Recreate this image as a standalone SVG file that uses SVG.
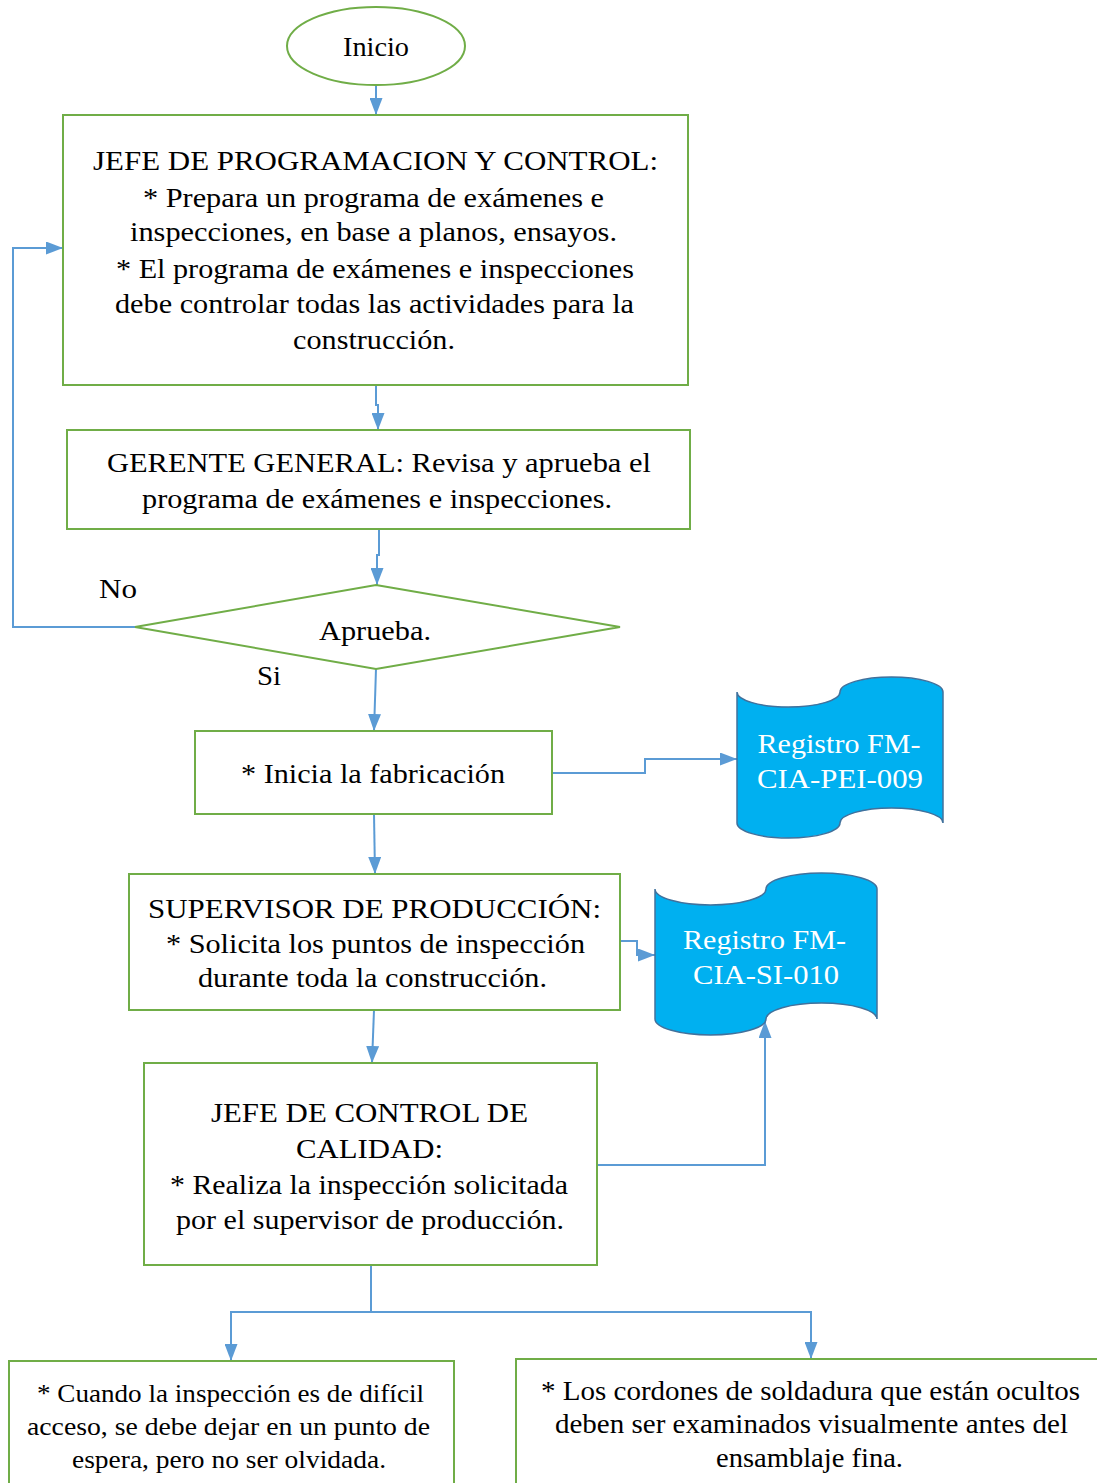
<svg xmlns="http://www.w3.org/2000/svg" width="1097" height="1483" viewBox="0 0 1097 1483">
<defs>
<marker id="ah" markerWidth="17" markerHeight="13" refX="17" refY="6.5" orient="auto" markerUnits="userSpaceOnUse" viewBox="0 0 17 13">
<path d="M0,0 L17,6.5 L0,13 Z" fill="#5B9BD5"/>
</marker>
<style>
.n{fill:#fff;stroke:#70AD47;stroke-width:2}
.r{fill:#00B0F0;stroke:#41719C;stroke-width:1.5}
.t{font-size:28px;fill:#000;text-anchor:middle}
.w{fill:#fff}
.s{font-size:25px}
.c{fill:none;stroke:#5B9BD5;stroke-width:2;marker-end:url(#ah)}
.l{font-size:28px;fill:#000}
</style>
</defs>
<rect width="1097" height="1483" fill="#fff"/>
<g id="connectors">
<path class="c" d="M376,85 V115"/>
<path class="c" d="M376,385 V405 H378 V430"/>
<path class="c" d="M379,529 V555 H377 V585"/>
<path class="c" d="M135,627 H13 V248 H63"/>
<path class="c" d="M376,669 L374,731"/>
<path class="c" d="M552,773 H645 V759 H737"/>
<path class="c" d="M374,814 L375,874"/>
<path class="c" d="M620,941 H637 V955 H655"/>
<path class="c" d="M374,1010 L372,1063"/>
<path class="c" d="M597,1165 H765 V1021"/>
<path class="c" d="M371,1265 V1312 H231 V1361"/>
<path class="c" d="M371,1312 H811 V1359"/>
</g>
<g font-family="'Liberation Serif', 'Times New Roman', Tinos, Times, serif">
<g id="inicio">
<ellipse class="n" cx="376" cy="46" rx="89" ry="39"/>
<text class="t" x="376" y="56" textLength="66" lengthAdjust="spacingAndGlyphs">Inicio</text>
</g>
<g id="jefe-programacion">
<rect class="n" x="63" y="115" width="625" height="270"/>
<text class="t" x="375.5" y="170" textLength="565" lengthAdjust="spacingAndGlyphs">JEFE DE PROGRAMACION Y CONTROL:</text>
<text class="t" x="373.5" y="207" textLength="461" lengthAdjust="spacingAndGlyphs">* Prepara un programa de exámenes e</text>
<text class="t" x="373.5" y="241" textLength="487" lengthAdjust="spacingAndGlyphs">inspecciones, en base a planos, ensayos.</text>
<text class="t" x="375" y="278" textLength="518" lengthAdjust="spacingAndGlyphs">* El programa de exámenes e inspecciones</text>
<text class="t" x="374.5" y="313" textLength="519" lengthAdjust="spacingAndGlyphs">debe controlar todas las actividades para la</text>
<text class="t" x="374" y="349" textLength="162" lengthAdjust="spacingAndGlyphs">construcción.</text>
</g>
<g id="gerente">
<rect class="n" x="67" y="430" width="623" height="99"/>
<text class="t" x="379" y="472" textLength="544" lengthAdjust="spacingAndGlyphs">GERENTE GENERAL: Revisa y aprueba el</text>
<text class="t" x="377" y="508" textLength="470" lengthAdjust="spacingAndGlyphs">programa de exámenes e inspecciones.</text>
</g>
<g id="aprueba">
<polygon class="n" points="376,585 620,627 376,669 135,627"/>
<text class="t" x="375" y="640" textLength="112" lengthAdjust="spacingAndGlyphs">Aprueba.</text>
<text class="l" x="99" y="598" textLength="38" lengthAdjust="spacingAndGlyphs">No</text>
<text class="l" x="257" y="685" textLength="24" lengthAdjust="spacingAndGlyphs">Si</text>
</g>
<g id="inicia-fabricacion">
<rect class="n" x="195" y="731" width="357" height="83"/>
<text class="t" x="373" y="783" textLength="264" lengthAdjust="spacingAndGlyphs">* Inicia la fabricación</text>
</g>
<g id="registro-pei">
<path class="r" d="M737,692 A51.5,15 0 0 0 840,692 A51.5,15 0 0 1 943,692 V823 A51.5,15 0 0 0 840,823 A51.5,15 0 0 1 737,823 Z"/>
<text class="t w" x="839" y="753" textLength="163" lengthAdjust="spacingAndGlyphs">Registro FM-</text>
<text class="t w" x="840" y="788" textLength="166" lengthAdjust="spacingAndGlyphs">CIA-PEI-009</text>
</g>
<g id="supervisor">
<rect class="n" x="129" y="874" width="491" height="136"/>
<text class="t" x="374.5" y="918" textLength="453" lengthAdjust="spacingAndGlyphs">SUPERVISOR DE PRODUCCIÓN:</text>
<text class="t" x="375.5" y="953" textLength="419" lengthAdjust="spacingAndGlyphs">* Solicita los puntos de inspección</text>
<text class="t" x="372.5" y="987" textLength="349" lengthAdjust="spacingAndGlyphs">durante toda la construcción.</text>
</g>
<g id="registro-si">
<path class="r" d="M655,889 A55.5,16 0 0 0 766,889 A55.5,16 0 0 1 877,889 V1019 A55.5,16 0 0 0 766,1019 A55.5,16 0 0 1 655,1019 Z"/>
<text class="t w" x="764.5" y="949" textLength="163" lengthAdjust="spacingAndGlyphs">Registro FM-</text>
<text class="t w" x="766" y="984" textLength="146" lengthAdjust="spacingAndGlyphs">CIA-SI-010</text>
</g>
<g id="jefe-calidad">
<rect class="n" x="144" y="1063" width="453" height="202"/>
<text class="t" x="369.5" y="1122" textLength="317" lengthAdjust="spacingAndGlyphs">JEFE DE CONTROL DE</text>
<text class="t" x="369.5" y="1158" textLength="147" lengthAdjust="spacingAndGlyphs">CALIDAD:</text>
<text class="t" x="369" y="1194" textLength="398" lengthAdjust="spacingAndGlyphs">* Realiza la inspección solicitada</text>
<text class="t" x="370" y="1229" textLength="388" lengthAdjust="spacingAndGlyphs">por el supervisor de producción.</text>
</g>
<g id="nota-acceso">
<rect class="n" x="9" y="1361" width="445" height="140"/>
<text class="t s" x="230.5" y="1402" textLength="387" lengthAdjust="spacingAndGlyphs">* Cuando la inspección es de difícil</text>
<text class="t s" x="228.5" y="1435" textLength="403" lengthAdjust="spacingAndGlyphs">acceso, se debe dejar en un punto de</text>
<text class="t s" x="229" y="1468" textLength="314" lengthAdjust="spacingAndGlyphs">espera, pero no ser olvidada.</text>
</g>
<g id="nota-cordones">
<rect class="n" x="516" y="1359" width="600" height="140"/>
<text class="t" x="810.5" y="1400" textLength="539" lengthAdjust="spacingAndGlyphs">* Los cordones de soldadura que están ocultos</text>
<text class="t" x="811.5" y="1433" textLength="513" lengthAdjust="spacingAndGlyphs">deben ser examinados visualmente antes del</text>
<text class="t" x="809.5" y="1467" textLength="187" lengthAdjust="spacingAndGlyphs">ensamblaje fina.</text>
</g>
</g>
</svg>
